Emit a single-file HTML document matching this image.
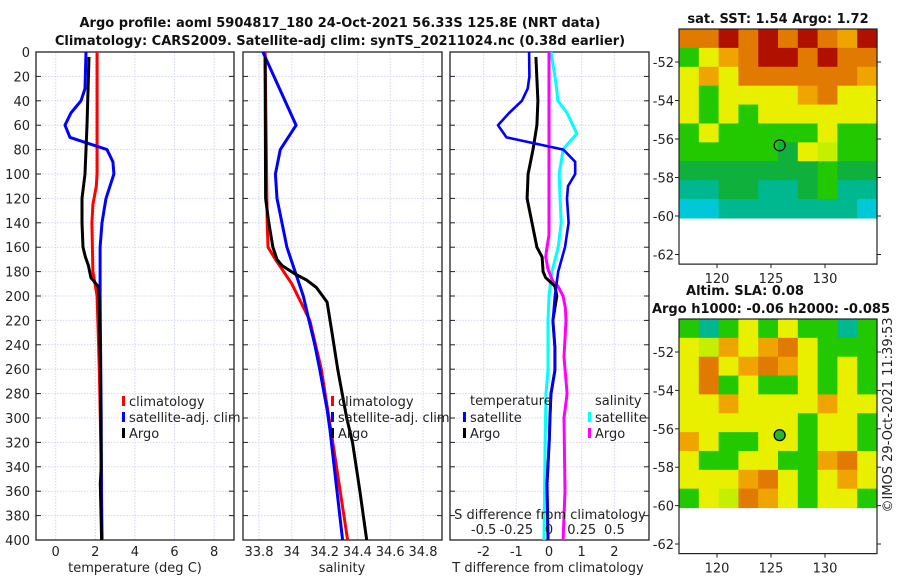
<!DOCTYPE html>
<html><head><meta charset="utf-8">
<style>
body{margin:0;background:#fff;width:900px;height:580px;overflow:hidden}
svg{font-family:"DejaVu Sans","Liberation Sans",sans-serif}
.t{font-size:13px;fill:#222}
.b{font-weight:bold;font-size:13px;fill:#111}
</style></head>
<body>
<svg id="fig" width="900" height="580" viewBox="0 0 900 580">
<text class="b" x="340" y="27" text-anchor="middle">Argo profile: aoml 5904817_180 24-Oct-2021 56.33S 125.8E (NRT data)</text>
<text class="b" x="340" y="45" text-anchor="middle">Climatology: CARS2009. Satellite-adj clim: synTS_20211024.nc (0.38d earlier)</text>
<text class="b" x="778" y="23" text-anchor="middle">sat. SST: 1.54 Argo: 1.72</text>
<text class="b" x="745" y="295" text-anchor="middle">Altim. SLA: 0.08</text>
<text class="b" x="771" y="313" text-anchor="middle">Argo h1000: -0.06 h2000: -0.085</text>
<text class="t" transform="translate(892,415) rotate(-90)" text-anchor="middle">©IMOS 29-Oct-2021 11:39:53</text>
<g id="plots"></g>
</svg>
<script>
// ---- data ----
const depthTicks=[0,20,40,60,80,100,120,140,160,180,200,220,240,260,280,300,320,340,360,380,400];
const tempTicks=[0,2,4,6,8];
const salTicks=[33.8,34,34.2,34.4,34.6,34.8];
const salTickLabels=["33.8","34","34.2","34.4","34.6","34.8"];
const tdiffTicks=[-2,-1,0,1,2];
const sdiffTickLabels=["-0.5","-0.25","0","0.25","0.5"];
const sdiffTicks=[-0.5,-0.25,0,0.25,0.5];

const tClimDepth=[0,100,110,125,140,180,200,260,320,400];
const tClim=[2.09,2.09,2.05,1.88,1.83,1.88,2.09,2.2,2.28,2.35];
const tSatDepth=[0,30,40,50,60,70,80,90,100,120,140,160,200,300,400];
const tSat=[1.53,1.48,1.28,0.77,0.47,0.72,2.59,2.89,2.94,2.54,2.34,2.24,2.24,2.3,2.32];
const tArgoDepth=[4,60,100,120,140,160,168,175,185,192,200,260,340,354,400];
const tArgo=[1.68,1.58,1.48,1.33,1.33,1.38,1.5,1.65,1.78,2.14,2.19,2.26,2.3,2.25,2.32];

const sClimDepth=[0,140,160,170,180,190,220,260,320,400];
const sClim=[33.837,33.85,33.855,33.9,33.95,34.0,34.11,34.18,34.25,34.34];
const sSatDepth=[0,60,80,100,120,160,180,200,220,240,260,293,310,400];
const sSat=[33.824,34.026,33.93,33.9,33.91,33.97,34.02,34.07,34.105,34.14,34.17,34.215,34.233,34.31];
const sArgoDepth=[4,120,140,160,170,175,182,187,193,205,230,260,300,320,360,400];
const sArgo=[33.837,33.84,33.86,33.885,33.91,33.94,34.02,34.09,34.15,34.215,34.245,34.28,34.335,34.37,34.415,34.457];

const dTSatDepth=[0,20,30,40,50,60,70,80,90,100,110,120,140,160,180,200,220,242,261,280,299,318,354,400];
const dTSat=[-0.61,-0.6,-0.65,-0.83,-1.22,-1.56,-1.3,0.44,0.8,0.8,0.58,0.55,0.6,0.49,0.28,0.18,0.12,0.18,0.18,0.06,0.03,0.01,-0.06,-0.03];
const dTArgoDepth=[4,40,60,80,100,120,140,160,168,180,185,192,200,220,242,261,280,299,318,354,400];
const dTArgo=[-0.4,-0.34,-0.37,-0.49,-0.64,-0.67,-0.52,-0.37,-0.21,-0.18,-0.1,0.18,0.24,0.12,0.18,0.18,0.06,0.03,0.01,-0.06,-0.03];
const dSSatDepth=[0,20,30,40,50,60,67,75,80,100,120,140,160,180,200,220,260,280,320,400];
const dSSat=[0.015,0.045,0.058,0.068,0.138,0.183,0.213,0.145,0.108,0.078,0.085,0.093,0.07,0.023,0,-0.008,-0.008,-0.023,-0.03,-0.038];
const dSArgoDepth=[0,150,160,168,178,188,192,200,210,220,250,280,300,360,400];
const dSArgo=[0,0,-0.015,-0.025,-0.008,0.03,0.068,0.108,0.125,0.13,0.115,0.138,0.115,0.122,0.108];

// ---- helpers ----
const NS="http://www.w3.org/2000/svg";
const root=document.getElementById('plots');
function mk(tag,attrs,parent){const e=document.createElementNS(NS,tag);for(const k in attrs)e.setAttribute(k,attrs[k]);(parent||root).appendChild(e);return e;}
const Y0=52,Y1=540;
function yS(d){return Y0+(d/400)*(Y1-Y0);}
function tX(v){return 55.7+v*19.8;}
function sX(v){return 259+(v-33.8)*164;}
function dtX(v){return 549+v*32.7;}
function dsX(v){return 549+v*130.8;}

function panel(x0,x1,name,xt,xfn,labels,showY){
  const g=mk('g',{});
  
  
  depthTicks.forEach(d=>{
    const l=mk('line',{x1:x0,x2:x1,y1:yS(d),y2:yS(d),stroke:'#d2d6ee','stroke-dasharray':'1.5,1.5','stroke-width':1},g);
    
    
    mk('line',{x1:x0,x2:x0+5,y1:yS(d),y2:yS(d),stroke:'#222'},g);
    mk('line',{x1:x1-5,x2:x1,y1:yS(d),y2:yS(d),stroke:'#222'},g);
    if(showY){const t=mk('text',{x:x0-6,y:yS(d)+5,'text-anchor':'end',class:'t'},g);t.textContent=d;
      
      }
  });
  xt.forEach((v,i)=>{
    const x=xfn(v);
    const l=mk('line',{x1:x,x2:x,y1:Y0,y2:Y1,stroke:'#d2d6ee','stroke-dasharray':'1.5,1.5'},g);
    
    
    if(labels){const t=mk('text',{x:x,y:Y1+16,'text-anchor':'middle',class:'t'},g);t.textContent=labels[i];
      
      }
  });
  const r=mk('rect',{x:x0,y:Y0,width:x1-x0,height:Y1-Y0,fill:'none',stroke:'#222','stroke-width':1.3},g);
  
  
  return g;
}
function series(depths,vals,xfn,color,name,w){
  const pts=depths.map((d,i)=>xfn(vals[i]).toFixed(1)+','+yS(d).toFixed(1)).join(' ');
  const p=mk('polyline',{points:pts,fill:'none',stroke:color,'stroke-width':w||3,'stroke-linejoin':'round'});
  
  
}
function txt(x,y,s,name,anchor){const t=mk('text',{x:x,y:y,class:'t','text-anchor':anchor||'start'});t.textContent=s;
  
  return t;}
function legend(x,y,color,label,name){
  const b=mk('rect',{x:x,y:y-10,width:3,height:10,fill:color});
  
  
  txt(x+7,y,label,name);
}

// panel 1
panel(36,234,'temperature-panel',tempTicks,tX,tempTicks.map(String),true);
series(tClimDepth,tClim,tX,'#f00','temp-climatology-line');
series(tSatDepth,tSat,tX,'#00f','temp-satellite-line');
series(tArgoDepth,tArgo,tX,'#000','temp-argo-line');
txt(135,572,'temperature (deg C)','x-axis-title-temperature','middle');
legend(122,406,'#f00','climatology','legend-climatology');
legend(122,422,'#00f','satellite-adj. clim','legend-satellite');
legend(122,438,'#000','Argo','legend-argo');

// panel 2
panel(243,442,'salinity-panel',salTicks,sX,salTickLabels,false);
series(sClimDepth,sClim,sX,'#f00','sal-climatology-line');
series(sSatDepth,sSat,sX,'#00f','sal-satellite-line');
series(sArgoDepth,sArgo,sX,'#000','sal-argo-line');
txt(342,572,'salinity','x-axis-title-salinity','middle');
legend(331,406,'#f00','climatology','legend-sal-climatology');
legend(331,422,'#00f','satellite-adj. clim','legend-sal-satellite');
legend(331,438,'#000','Argo','legend-sal-argo');

// panel 3
panel(450,649,'difference-panel',tdiffTicks,dtX,tdiffTicks.map(String),false);
series(dSSatDepth,dSSat,dsX,'#0ff','sdiff-satellite-line');
series(dSArgoDepth,dSArgo,dsX,'#f0f','sdiff-argo-line');
series(dTArgoDepth,dTArgo,dtX,'#000','tdiff-argo-line');
series(dTSatDepth,dTSat,dtX,'#00f','tdiff-satellite-line',2.6);
txt(470,405,'temperature','legend-temperature-heading');
legend(463,422,'#00f','satellite','legend-tdiff-satellite');
legend(463,438,'#000','Argo','legend-tdiff-argo');
txt(595,405,'salinity','legend-salinity-heading');
legend(588,422,'#0ff','satellite','legend-sdiff-satellite');
legend(588,438,'#f0f','Argo','legend-sdiff-argo');
txt(550,519,'S difference from climatology','s-diff-axis-title','middle');
sdiffTicks.forEach((v,i)=>{txt(dsX(v),534,sdiffTickLabels[i],'s-diff-tick-label','middle');});
txt(548,572,'T difference from climatology','x-axis-title-tdiff','middle');

// ---- maps ----
const C={R:'#b01000',O:'#e07a00',o:'#f0a400',Y:'#e8f000',y:'#c4f000',G:'#22c800',g:'#10b03c',T:'#00b890',C:'#00c8d8'};
const sstGrid=["OOROROROoR","GYoORROROO","YoYOOOOOOo","YGYYYYoOYY","YGYGYYYYYY","GYGGGGGYGG","GGGGGgYyGG","gggggggGgg","TTggTTgGTT","CCTTTTTTTC"];
const slaGrid=["GTGYGYGGTG","YyoYoOYGGG","YOYoOoYGYG","YOGYGGYGYG","YYoYYYYoYY","YYYYYYGYYG","oYGGYYGYYG","YGGYYGGoOY","YYYoOYGYoY","GYyOoYGYYG"];
const latTicks=[-52,-54,-56,-58,-60,-62];
const lonTicks=[120,125,130];
function map(top,latPos,grid,name,fillMarker){
  const g=mk('g',{});
  
  
  const x0=679,x1=877,imgB=latPos(-60.1),bottom=latPos(-62.5);
  const cw=(x1-x0)/10,ch=(imgB-top)/10;
  grid.forEach((row,r)=>{[...row].forEach((c,k)=>{
    mk('rect',{x:x0+k*cw,y:top+r*ch,width:cw+0.6,height:ch+0.6,fill:C[c]},g);});});
  mk('rect',{x:x0,y:top,width:x1-x0,height:bottom-top,fill:'none',stroke:'#222','stroke-width':1.2},g);
  latTicks.forEach(v=>{const y=latPos(v);
    mk('line',{x1:x0-4,x2:x0,y1:y,y2:y,stroke:'#222'},g);mk('line',{x1:x1,x2:x1+4,y1:y,y2:y,stroke:'#222'},g);
    const t=mk('text',{x:x0-5,y:y+5,'text-anchor':'end',class:'t'},g);t.textContent=v;
    
    });
  lonTicks.forEach(v=>{const x=717+(v-120)*10.8;
    mk('line',{x1:x,x2:x,y1:bottom,y2:bottom+4,stroke:'#222'},g);
    const t=mk('text',{x:x,y:bottom+19,'text-anchor':'middle',class:'t'},g);t.textContent=v;
    
    });
  const cx=717+(125.8-120)*10.8,cy=latPos(-56.33);
  const m=mk('circle',{cx:cx,cy:cy,r:5.5,fill:fillMarker,stroke:'#000','stroke-width':1.2},g);
  
  
}
map(29,v=>62+(-52-v)/2*38.5,sstGrid,'sst-map','none');
map(319,v=>352+(-52-v)/2*38.4,slaGrid,'sla-map','#22b830');
</script>
</body></html>
